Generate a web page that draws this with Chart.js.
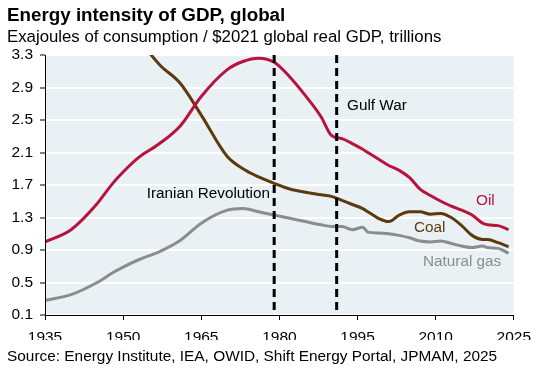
<!DOCTYPE html>
<html>
<head>
<meta charset="utf-8">
<script src="https://cdn.jsdelivr.net/npm/chart.js@4"></script>
<style>
  html, body { margin: 0; padding: 0; background: #fff; }
  #wrap { width: 539px; height: 370px; position: relative; }
</style>
</head>
<body>
<div id="wrap"><canvas id="chart"></canvas></div>
<script>
// data
const years = [1935, 1940, 1945, 1948, 1950, 1953, 1957, 1961, 1965, 1970, 1973, 1976, 1979, 1982, 1985, 1988, 1990, 1992,
               1994, 1996, 1997, 1999, 2001, 2003, 2005, 2007, 2009, 2011, 2013, 2015, 2017, 2019, 2020, 2022, 2024];
const oil = [1.00, 1.15, 1.47, 1.72, 1.86, 2.04, 2.21, 2.43, 2.79, 3.12, 3.22, 3.26, 3.21, 3.03, 2.80, 2.54, 2.31, 2.27,
             2.21, 2.14, 2.10, 2.02, 1.94, 1.88, 1.79, 1.65, 1.57, 1.50, 1.44, 1.39, 1.33, 1.23, 1.21, 1.20, 1.15];
const coal = [5.00, 4.60, 4.20, 3.95, 3.78, 3.50, 3.18, 2.95, 2.56, 2.05, 1.90, 1.80, 1.72, 1.65, 1.61, 1.58, 1.56, 1.51,
              1.46, 1.41, 1.37, 1.29, 1.25, 1.33, 1.37, 1.37, 1.34, 1.35, 1.30, 1.20, 1.08, 1.03, 1.03, 0.99, 0.94];
const gas = [0.28, 0.35, 0.50, 0.62, 0.69, 0.78, 0.88, 1.02, 1.23, 1.39, 1.41, 1.37, 1.33, 1.29, 1.25, 1.21, 1.19, 1.19,
             1.15, 1.18, 1.12, 1.11, 1.10, 1.08, 1.05, 1.01, 1.00, 1.01, 0.98, 0.95, 0.93, 0.95, 0.93, 0.92, 0.86];
const eventYears = [1979, 1991];
const xTicks = [1935, 1950, 1965, 1980, 1995, 2010, 2025];
const yTicks = [0.1, 0.5, 0.9, 1.3, 1.7, 2.1, 2.5, 2.9, 3.3];

const FONT = '"Liberation Sans", Arial, sans-serif';
const OIL = '#b8123d', COAL = '#5c3a0d', GAS = '#8c8c8c';

function pts(vals) {
    return years.map((y, i) => ({ x: y, y: vals[i] }));
}

const decorations = {
    id: 'decorations',
    beforeDraw(chart) {
        const { ctx, chartArea: a } = chart;
        ctx.save();
        ctx.fillStyle = '#e9f1f4';
        ctx.fillRect(a.left, a.top, a.right - a.left, a.bottom - a.top);
        ctx.restore();
    },
    afterDatasetsDraw(chart) {
        const { ctx, chartArea: a, scales } = chart;
        ctx.save();
        ctx.strokeStyle = '#000';
        ctx.lineWidth = 3;
        ctx.setLineDash([8, 5]);
        eventYears.forEach(yr => {
            const x = scales.x.getPixelForValue(yr);
            ctx.beginPath();
            ctx.moveTo(x, a.top);
            ctx.lineTo(x, a.bottom);
            ctx.stroke();
        });
        ctx.setLineDash([]);
        ctx.textBaseline = 'middle';
        ctx.font = '15.3px ' + FONT;
        ctx.fillStyle = '#000';
        ctx.textAlign = 'right';
        ctx.fillText('Iranian Revolution', 270, 194);
        ctx.textAlign = 'left';
        ctx.fillText('Gulf War', 347, 106);
        ctx.fillStyle = OIL;
        ctx.fillText('Oil', 476, 201);
        ctx.fillStyle = COAL;
        ctx.fillText('Coal', 414, 228);
        ctx.fillStyle = GAS;
        ctx.fillText('Natural gas', 423, 262);

        ctx.fillStyle = '#000';
        ctx.textBaseline = 'alphabetic';
        ctx.font = 'bold 18.8px ' + FONT;
        ctx.fillText('Energy intensity of GDP, global', 7, 21);
        ctx.font = '16.8px ' + FONT;
        ctx.fillText('Exajoules of consumption / $2021 global real GDP, trillions', 7, 42);
        ctx.font = '15.4px ' + FONT;
        ctx.fillText('Source: Energy Institute, IEA, OWID, Shift Energy Portal, JPMAM, 2025', 7, 361);
        ctx.restore();
    }
};

const lineDs = (label, vals, color) => ({
    label: label,
    data: pts(vals),
    borderColor: color,
    borderWidth: 3,
    pointRadius: 0,
    cubicInterpolationMode: 'monotone',
    fill: false
});

new Chart(document.getElementById('chart'), {
    type: 'line',
    data: {
        datasets: [
            lineDs('Oil', oil, OIL),
            lineDs('Coal', coal, COAL),
            lineDs('Natural gas', gas, GAS)
        ]
    },
    options: {
        responsive: true,
        maintainAspectRatio: false,
        animation: false,
        layout: { padding: { top: 55, right: 21, bottom: 30, left: 0 } },
        plugins: { legend: { display: false }, tooltip: { enabled: false } },
        scales: {
            x: {
                type: 'linear',
                min: 1935,
                max: 2025,
                afterBuildTicks: s => { s.ticks = xTicks.map(v => ({ value: v })); },
                afterFit: s => { s.height = 25; },
                ticks: { color: '#000', font: { family: FONT, size: 15.5 }, padding: 8, maxRotation: 0,
                         callback: v => String(v) },
                grid: { display: true, drawOnChartArea: false, color: '#000', tickLength: 5 },
                border: { color: '#000', width: 1 }
            },
            y: {
                min: 0.1,
                max: 3.3,
                afterBuildTicks: s => { s.ticks = yTicks.map(v => ({ value: v })); },
                afterFit: s => { s.width = 45; },
                ticks: { color: '#000', font: { family: FONT, size: 15.5 }, padding: 7,
                         callback: v => Number(v).toFixed(1) },
                grid: { color: '#fff', lineWidth: 2, tickLength: 5, tickColor: '#000', tickWidth: 1 },
                border: { color: '#000', width: 1, z: 1 }
            }
        }
    },
    plugins: [decorations]
});
</script>
</body>
</html>
